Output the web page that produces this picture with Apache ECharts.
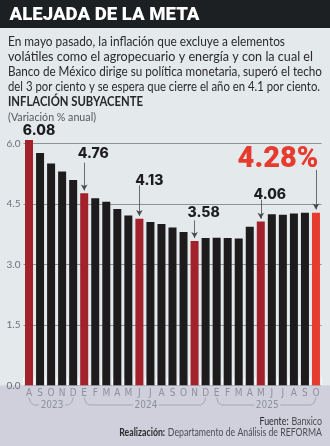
<!DOCTYPE html>
<html><head><meta charset="utf-8">
<script src="https://cdn.jsdelivr.net/npm/echarts@6/dist/echarts.min.js"></script>
<style>html,body{margin:0;padding:0;background:#e4e9ec;}#c{width:330px;height:446px;}</style>
</head><body><div id="c"></div>
<script>
const months = ['A','S','O','N','D','E','F','M','A','M','J','J','A','S','O','N','D','E','F','M','A','M','J','J','A','S','O'];
const values = [6.08,5.76,5.50,5.30,5.09,4.76,4.64,4.55,4.37,4.21,4.13,4.05,4.00,3.91,3.80,3.58,3.65,3.66,3.65,3.64,3.93,4.06,4.24,4.23,4.26,4.28,4.28];
const years = ['2023','2024','2025'];
const yearFirst = [0,5,17];
const yearLast = [4,16,26];
const highlighted = [0,5,10,15,21];
const lastIndex = 26;
const yMin = 0, yMax = 6, yStep = 1.5;
// arrows: [index, start value, end value]
const arrows = [[5,5.52,4.83],[10,4.96,4.20],[15,4.09,3.65],[21,4.60,4.13],[26,5.34,4.36]];
const paragraph = [
  'En mayo pasado, la inflación que excluye a elementos',
  'volátiles como el agropecuario y energía y con la cual el',
  'Banco de México dirige su política monetaria, superó el techo',
  'del 3 por ciento y se espera que cierre el año en 4.1 por ciento.'
];
const paragraphWidths = [277, 305, 314, 312];

const labelCfg = {
  0:{distance:2, offset:[10,0]},
  5:{distance:33, offset:[9,0]},
  10:{distance:31, offset:[10,0]},
  15:{distance:21, offset:[9,0]},
  21:{distance:20, offset:[9,0]}
};

const data = values.map((v,i)=>{
  const item = {value:v};
  if (i === lastIndex) {
    item.itemStyle = {color:'#e63c30'};
    item.label = {show:true, position:'top', distance:38, offset:[-38,0],
      formatter: p => p.value.toFixed(2)+'%', color:'#e63c30',
      fontFamily:'Roboto', fontWeight:900, fontSize:29};
  } else if (highlighted.includes(i)) {
    const c = labelCfg[i];
    item.itemStyle = {color:'#a3212b'};
    item.label = {show:true, position:'top', distance:c.distance, offset:c.offset,
      formatter: p => p.value.toFixed(2), color:'#1d1d1f',
      fontFamily:'Inter', fontWeight:800, fontSize:14};
  }
  return item;
});

const mctx = document.createElement('canvas').getContext('2d');
function fitScale(text, font, target){
  mctx.font = font;
  const w = mctx.measureText(text).width;
  return w > 0 ? target / w : 1;
}

const chart = echarts.init(document.getElementById('c'), null, {renderer:'canvas'});

function baseGraphics(){
  const pFont = '13.4px Lato';
  const hFont = 'bold 13.2px Lato';
  const g = [
    {type:'rect', shape:{x:0,y:0,width:330,height:28}, style:{fill:'#1c2023'}},
    {type:'rect', shape:{x:0,y:385.5,width:330,height:61}, style:{fill:'#cfd0db'}},
    {type:'text', x:9.5, y:15, style:{text:'ALEJADA DE LA META', fill:'#ffffff', font:'900 18.6px Roboto', textVerticalAlign:'middle'}},
    {type:'text', x:8, y:102, scaleX: fitScale('INFLACIÓN SUBYACENTE', hFont, 135), style:{text:'INFLACIÓN SUBYACENTE', fill:'#262628', font:hFont, textVerticalAlign:'middle'}},
    {type:'text', x:8, y:118, scaleX: fitScale('(Variación % anual)', '10.5px Lato', 88), style:{text:'(Variación % anual)', fill:'#55575c', font:'10.5px Lato', textVerticalAlign:'middle'}},
    {type:'text', x:322, y:422, scaleX:0.84, style:{text:'{a|Fuente:} {b|Banxico}', rich:{a:{fill:'#2a2a2e',font:'10.5px Lato'},b:{fill:'#4a4c55',font:'10.5px Lato'}}, textAlign:'right', textVerticalAlign:'middle'}},
    {type:'text', x:322, y:433, scaleX:0.83, style:{text:'{a|Realización:} {b|Departamento de Análisis de REFORMA}', rich:{a:{fill:'#2a2a2e',font:'bold 10.5px Lato'},b:{fill:'#4a4c55',font:'10.5px Lato'}}, textAlign:'right', textVerticalAlign:'middle'}}
  ];
  paragraph.forEach((t,k)=>{
    g.push({type:'text', x:8, y:41.2 + k*15, scaleX: fitScale(t, pFont, paragraphWidths[k]),
      style:{text:t, fill:'#2a2a2c', font:pFont, textVerticalAlign:'middle'}});
  });
  return g;
}

chart.setOption({
  animation:false,
  backgroundColor:'#e4e9ec',
  grid:{left:23.5, right:8.5, top:143.3, bottom:60.7, containLabel:false},
  xAxis:{type:'category', data:months, boundaryGap:true,
    axisLine:{show:false},
    axisTick:{show:true, inside:true, length:8, lineStyle:{color:'rgba(255,255,255,0.75)', width:1}},
    axisLabel:{color:'#8d909a', fontSize:10, fontFamily:'DejaVu Sans Condensed', fontWeight:300, margin:3, interval:0}
  },
  yAxis:{type:'value', min:yMin, max:yMax, interval:yStep,
    axisLine:{show:false}, axisTick:{show:false},
    axisLabel:{color:'#6e7177', fontSize:10, fontFamily:'Lato', margin:3, formatter:v=>v.toFixed(1)},
    splitLine:{show:true, lineStyle:{color:'#8e9396', width:1.2}}
  },
  series:[{
    type:'bar', data:data, barWidth:8, clip:false,
    itemStyle:{color:'#1e1b1c'},
    markLine:{silent:true, symbol:['none','arrow'], symbolSize:[5,6],
      label:{show:false}, lineStyle:{color:'#4a4a4a', width:0.8, type:'solid'},
      data: arrows.map(a=>[{coord:[a[0],a[1]]},{coord:[a[0],a[2]]}])
    }
  }],
  graphic: baseGraphics()
});

// year brackets computed from the axis scale
const g = baseGraphics();
years.forEach((y,k)=>{
  const x0 = chart.convertToPixel({xAxisIndex:0}, yearFirst[k]);
  const x1 = chart.convertToPixel({xAxisIndex:0}, yearLast[k]);
  const mid = (x0+x1)/2 + 1;
  const yy = 405, yt = 397.5;
  g.push({type:'text', x:mid, y:yy, style:{text:y, fill:'#8d909a', font:'300 10px "DejaVu Sans Condensed"', textAlign:'center', textVerticalAlign:'middle'}});
  g.push({type:'polyline', shape:{points:[[x0,yt],[x0+1.5,yy-2.5],[x0+5,yy],[mid-13,yy]]}, style:{stroke:'#9a9ca6', lineWidth:0.8, fill:null}});
  g.push({type:'polyline', shape:{points:[[mid+13,yy],[x1-5,yy],[x1-1.5,yy-2.5],[x1,yt]]}, style:{stroke:'#9a9ca6', lineWidth:0.8, fill:null}});
});
chart.setOption({graphic: g}, {replaceMerge:['graphic']});
</script>
</body></html>
